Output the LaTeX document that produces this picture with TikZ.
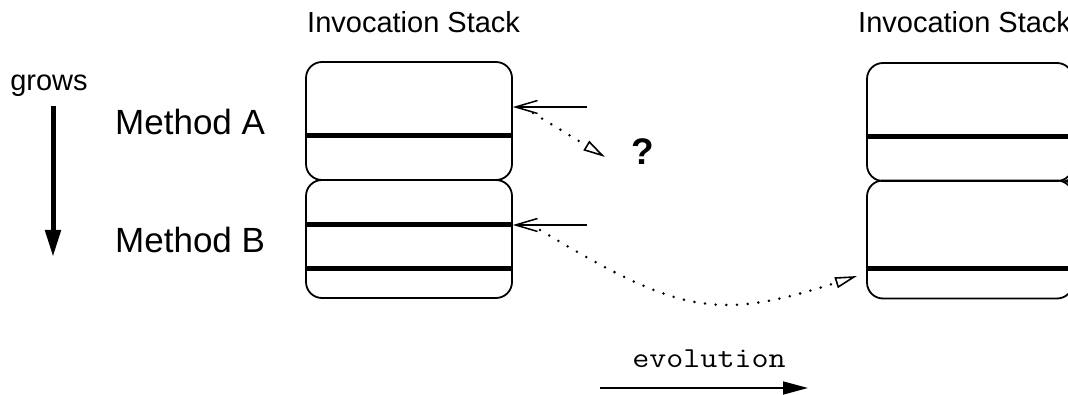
\documentclass[tikz,border=0pt]{standalone}
\usepackage{fontspec}
\setmainfont{Liberation Sans}
\usetikzlibrary{arrows.meta}
\begin{document}
\begin{tikzpicture}[x=1pt,y=-1pt,
  frame/.style={draw, line width=1.8pt, rounded corners=16pt, minimum width=206pt, minimum height=118pt, inner sep=0pt},
  bar/.style={line width=5pt},
  callarrow/.style={line width=1.5pt, -{Straight Barb[length=22pt,width=13pt]}},
  dotarrow/.style={line width=2.8pt, line cap=round, dash pattern=on 0pt off 10.7pt, -{Triangle[open, length=22pt, width=11pt, line width=1.6pt]}},
  growsarrow/.style={line width=5pt, -{Triangle[length=27pt,width=15pt]}},
  evoarrow/.style={line width=1.5pt, -{Triangle[length=25pt,width=13pt]}},
  title/.style={font=\fontsize{29}{34}\selectfont, anchor=base west, inner sep=0pt},
  meth/.style={font=\fontsize{35}{40}\selectfont, anchor=base west, inner sep=0pt}
]
\useasboundingbox (0,0) rectangle (1068,395);
\clip (0,0) rectangle (1068,395);

% titles
\node[title] (t1) at (307,33) {Invocation Stack};
\node[title] (t2) at (858,33) {Invocation Stack};

% grows
\node[font=\fontsize{29}{34}\selectfont, anchor=base, inner sep=0pt] (grows) at (49,91) {grows};
\coordinate (g0) at (53,106);
\coordinate (g1) at (53,257);
\draw[growsarrow] (g0) -- (g1);

% method labels
\node[meth] (mA) at (115,135) {Method A};
\node[meth] (mB) at (115,253) {Method B};

% left stack
\node[frame] (A1) at (409,121) {};
\node[frame] (B1) at (409,239) {};
\draw[bar] ([yshift=-15pt]A1.west) -- ([yshift=-15pt]A1.east);
\draw[bar] ([yshift=14pt]B1.west) -- ([yshift=14pt]B1.east);
\draw[bar] ([yshift=-30pt]B1.west) -- ([yshift=-30pt]B1.east);

% right stack
\node[frame] (A2) at (970,122) {};
\node[frame] (B2) at (970,239.5) {};
\draw[bar] ([yshift=-15pt]A2.west) -- ([yshift=-15pt]A2.east);
\draw[bar] ([yshift=-29.5pt]B2.west) -- ([yshift=-29.5pt]B2.east);

% call arrows
\coordinate (pA) at (587,107);
\coordinate (pB) at (587,225);
\draw[callarrow] (pA) -- (A1.east |- pA);
\draw[callarrow] (pB) -- (B1.east |- pB);
\coordinate (pC) at (1110,181);
\coordinate (jC) at (1062,181);
\draw[callarrow] (pC) -- (jC);

% question
\node[font=\fontsize{37}{40}\selectfont\bfseries, anchor=base, inner sep=0pt] (q) at (643,165) {?};

% dotted arrows
\coordinate (dA0) at (533,113);
\coordinate (dA1) at (605,157);
\draw[dotarrow] (dA0) -- (dA1);
\coordinate (dB0) at (540,230);
\coordinate (dB1) at (857,276);
\draw[dotarrow] (dB0) .. controls (680,314) and (717,321) .. (dB1);

% evolution
\node[anchor=base, inner sep=0pt] (evo) at (709,367) {\fontsize{29}{34}\selectfont\ttfamily\scalebox{1.14}[1]{evolution}};
\coordinate (e0) at (600,388);
\coordinate (e1) at (808,388);
\draw[evoarrow] (e0) -- (e1);
\end{tikzpicture}
\end{document}
